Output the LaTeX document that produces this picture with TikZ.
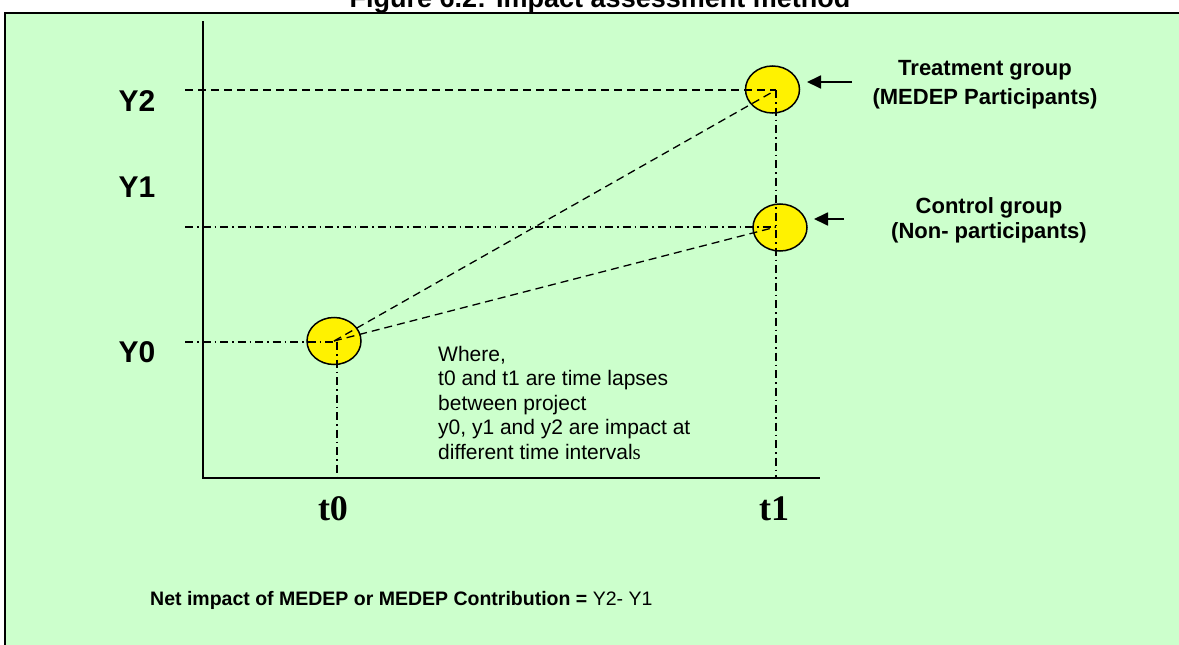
\documentclass[tikz,border=0pt]{standalone}
\usepackage{fontspec}
\setmainfont{Liberation Sans}
\newfontfamily\serifface{Liberation Serif}
\usetikzlibrary{arrows.meta,shapes.geometric}
\definecolor{bggreen}{RGB}{204,255,204}
\tikzset{
  dashln/.style={line width=1.3pt, dash pattern=on 8pt off 5pt},
  dashdotln/.style={line width=1.3pt, dash pattern=on 8pt off 4pt on 1.5pt off 4pt},
  blob/.style={ellipse, draw, line width=1.5pt, fill=yellow, minimum width=54pt, minimum height=47pt, inner sep=0pt},
  ylab/.style={font=\fontsize{30}{30}\selectfont\bfseries, anchor=base},
  tlab/.style={font=\fontsize{36}{36}\serifface\bfseries, anchor=base},
  grouplab/.style={font=\fontsize{22}{22}\selectfont\bfseries, anchor=base},
  pointer/.style={line width=1.8pt, -{Triangle[length=14pt,width=13pt]}},
}
\begin{document}
\begin{tikzpicture}[x=1pt,y=-1pt]
\useasboundingbox (0,0) rectangle (1179,645);
\clip (0,0) rectangle (1179,645);
\fill[white] (0,0) rectangle (1179,645);
\node[font=\fontsize{27}{27}\selectfont\bfseries, anchor=base] (title) at (600,8) {Figure 6.2: Impact assessment method};
\draw[line width=2pt, fill=bggreen] (5,13) rectangle (1220,700);

% axes
\coordinate (ytop) at (203,21);
\coordinate (orig) at (203,478);
\coordinate (xend) at (820,478);
\draw[line width=1.5pt] (ytop) -- (orig) -- (xend);

% key points
\coordinate (p2) at (776,90);
\coordinate (p1) at (776,227);
\coordinate (p0) at (337,342);
\coordinate (y2s) at (185,90);
\coordinate (y1s) at (185,227);
\coordinate (y0s) at (185,342);
\coordinate (t0b) at (337,478);
\coordinate (t1b) at (776,478);

\node[blob] (c2) at (772.5,89.5) {};
\node[blob] (c1) at (780,227.5) {};
\node[blob] (c0) at (334,341) {};

\draw[dashln] (y2s) -- (p2);
\draw[dashdotln] (y1s) -- (p1);
\draw[dashdotln] (y0s) -- (p0);
\draw[dashdotln] (p0) -- (t0b);
\draw[dashdotln] (p2) -- (t1b);
\draw[dashln] (c0.center) -- (p2);
\draw[dashln] (c0.center) -- (p1);

% labels
\node[ylab] (Y2) at (137,111) {Y2};
\node[ylab] (Y1) at (137,197) {Y1};
\node[ylab] (Y0) at (137,362) {Y0};
\node[tlab] (t0) at (333,520) {t0};
\node[tlab] (t1) at (774,520) {t1};

% pointers
\coordinate (a2s) at (852,82);
\coordinate (a2e) at (807,82);
\coordinate (a1s) at (844,219);
\coordinate (a1e) at (814,219);
\draw[pointer] (a2s) -- (a2e);
\draw[pointer] (a1s) -- (a1e);

\node[grouplab] (tg1) at (985,75) {Treatment group};
\node[grouplab] (tg2) at (985,104) {(MEDEP Participants)};
\node[grouplab] (cg1) at (989,213) {Control group};
\node[grouplab] (cg2) at (989,238) {(Non- participants)};

\node[font=\fontsize{21}{24.5}\selectfont, anchor=north west, align=left, inner sep=0pt] (where) at (438,346)
  {Where,\\t0 and t1 are time lapses\\between project\\y0, y1 and y2 are impact at\\different time interval{\serifface s}};

\node[font=\fontsize{19.5}{19.5}\selectfont, anchor=base west, inner sep=0pt] (net) at (150,605)
  {\textbf{Net impact of MEDEP or MEDEP Contribution =} Y2- Y1};
\end{tikzpicture}
\end{document}
